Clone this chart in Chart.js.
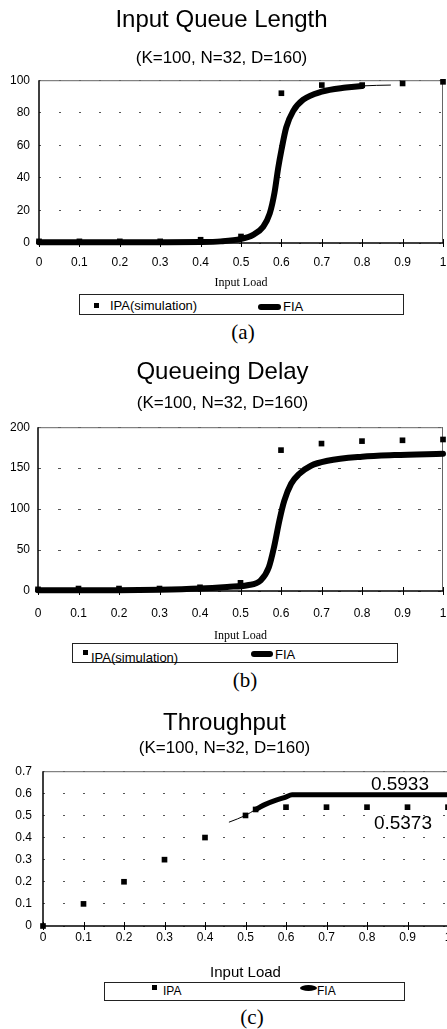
<!DOCTYPE html>
<html>
<head>
<meta charset="utf-8">
<script src="https://cdn.jsdelivr.net/npm/chart.js@4.4.1/dist/chart.umd.min.js"></script>
<style>
  body { margin:0; width:447px; height:1029px; overflow:hidden; background:#fff; position:relative; font-family:"Liberation Sans", Arial, sans-serif; color:#000; }
  canvas { position:absolute; left:0; }
  .legend { position:absolute; border:1px solid #222; box-sizing:border-box; }
  .legend span { position:absolute; white-space:nowrap; line-height:14px; }
  .sq { width:5px; height:5px; background:#000; }
  .bar { background:#000; border-radius:3px; }
  .cap { position:absolute; width:100px; text-align:center; font-family:"Liberation Serif", "Times New Roman", serif; font-size:21px; line-height:24px; }
</style>
</head>
<body>
<canvas id="queueChart" width="447" height="293" style="top:0px"></canvas>
<div class="legend" style="left:79px;top:294px;width:325px;height:21px;font-size:13px">
  <span class="sq" style="left:14px;top:8px"></span>
  <span style="left:30px;top:4px">IPA(simulation)</span>
  <span class="bar" style="left:178px;top:9px;width:23px;height:6px"></span>
  <span style="left:203px;top:5px">FIA</span>
</div>
<div class="cap" style="left:193px;top:320px">(a)</div>

<canvas id="delayChart" width="447" height="303" style="top:340px"></canvas>
<div class="legend" style="left:72px;top:643px;width:326px;height:20px;font-size:13px">
  <span class="sq" style="left:10px;top:6px"></span>
  <span style="left:18px;top:7px">IPA(simulation)</span>
  <span class="bar" style="left:178px;top:7px;width:22px;height:6px"></span>
  <span style="left:202px;top:4px">FIA</span>
</div>
<div class="cap" style="left:195px;top:668px">(b)</div>

<canvas id="tputChart" width="452" height="282" style="top:700px"></canvas>
<div class="legend" style="left:104px;top:982px;width:301px;height:19px;font-size:12px">
  <span class="sq" style="left:47px;top:2px"></span>
  <span style="left:58px;top:1px">IPA</span>
  <span class="bar" style="left:195px;top:2px;width:17px;height:6px;border-radius:50%"></span>
  <span style="left:212px;top:1px">FIA</span>
</div>
<div class="cap" style="left:202px;top:1005px">(c)</div>

<script>
// (a) Input Queue Length
var ipaLoad = [0, 0.1, 0.2, 0.3, 0.4, 0.5, 0.6, 0.7, 0.8, 0.9, 1];
var ipaQueue = [1, 1, 1, 1, 2, 4, 92, 97, 97, 98, 99];
var fiaQueueLoad = [0, 0.1, 0.2, 0.3, 0.4, 0.45, 0.5, 0.53, 0.555, 0.571, 0.583, 0.592, 0.6, 0.612, 0.629, 0.654, 0.7, 0.76, 0.8, 0.87];
var fiaQueue = [0.5, 0.5, 0.5, 0.5, 0.6, 1, 2.5, 5, 10, 18, 31, 46, 57, 71, 81, 88, 93, 95.5, 96.5, 97];

// (b) Queueing Delay
var ipaDelay = [2, 3, 3, 3, 4.5, 10, 172, 180, 183, 184, 185];
var fiaDelayLoad = [0, 0.1, 0.2, 0.3, 0.4, 0.467, 0.517, 0.55, 0.57, 0.583, 0.596, 0.608, 0.625, 0.645, 0.674, 0.715, 0.8, 0.88, 1];
var fiaDelay = [1, 1, 1, 1.5, 3, 5, 7, 13, 29, 54, 86, 110, 131, 143, 153, 159, 164, 166, 167.5];

// (c) Throughput
var ipaTputLoad = [0, 0.1, 0.2, 0.3, 0.4, 0.5, 0.525, 0.6, 0.7, 0.8, 0.9, 1];
var ipaTput = [0, 0.1, 0.2, 0.3, 0.4, 0.5, 0.527, 0.5373, 0.5373, 0.5373, 0.5373, 0.5373];
var fiaTputLoad = [0.46, 0.5, 0.525, 0.533, 0.549, 0.574, 0.598, 0.615, 0.7, 0.8, 0.9, 1];
var fiaTput = [0.47, 0.5, 0.527, 0.535, 0.55, 0.568, 0.582, 0.5933, 0.5933, 0.5933, 0.5933, 0.5933];

var SANS = '"Liberation Sans", Arial, sans-serif';
var SERIF = '"Liberation Serif", "Times New Roman", serif';

function toPoints(xs, ys) {
  return xs.map(function (x, i) { return { x: x, y: ys[i] }; });
}

// tick text like the original: 0, 0.1 ... 0.9, 1
function shortNum(v) {
  return String(parseFloat(v.toFixed(2)));
}

// box round the plot, axis lines and the little ticks crossing the x axis
var framePlugin = {
  id: 'frame',
  beforeDatasetsDraw: function (chart) {
    var ctx = chart.ctx, a = chart.chartArea, x = chart.scales.x;
    ctx.save();
    ctx.strokeStyle = '#666';
    ctx.lineWidth = 1;
    ctx.beginPath();
    ctx.moveTo(a.left, a.top + 0.5); ctx.lineTo(a.right, a.top + 0.5);
    ctx.moveTo(a.right - 0.5, a.top); ctx.lineTo(a.right - 0.5, a.bottom);
    ctx.stroke();
    ctx.strokeStyle = '#000';
    ctx.lineWidth = 1.5;
    ctx.beginPath();
    ctx.moveTo(a.left, a.top); ctx.lineTo(a.left, a.bottom); ctx.lineTo(a.right, a.bottom);
    ctx.stroke();
    ctx.lineWidth = 1;
    ctx.beginPath();
    x.ticks.forEach(function (t) {
      var px = Math.round(x.getPixelForValue(t.value)) + 0.5;
      ctx.moveTo(px, a.bottom - 4); ctx.lineTo(px, a.bottom + 4);
    });
    ctx.stroke();
    ctx.restore();
  }
};

// the two end values written next to the throughput curves
var valueLabels = {
  id: 'valueLabels',
  afterDatasetsDraw: function (chart) {
    var ctx = chart.ctx, x = chart.scales.x, y = chart.scales.y;
    var fiaEnd = fiaTput[fiaTput.length - 1];
    var ipaEnd = ipaTput[ipaTput.length - 1];
    ctx.save();
    ctx.font = '19px ' + SANS;
    ctx.fillStyle = '#000';
    ctx.textAlign = 'right';
    ctx.textBaseline = 'alphabetic';
    ctx.fillText(fiaEnd.toFixed(4), x.getPixelForValue(1) - 19, y.getPixelForValue(fiaEnd) - 5);
    ctx.fillText(ipaEnd.toFixed(4), x.getPixelForValue(1) - 16, y.getPixelForValue(ipaEnd) + 22);
    ctx.restore();
  }
};

function makeChart(id, o) {
  return new Chart(document.getElementById(id), {
    type: 'scatter',
    data: {
      datasets: [{
        label: o.ipaLabel,
        data: o.ipa,
        pointStyle: 'rect',
        pointRadius: 4,
        backgroundColor: '#000',
        borderColor: '#000',
        borderWidth: 0,
        clip: false
      }, {
        label: 'FIA',
        data: o.fia,
        showLine: true,
        pointRadius: 0,
        borderColor: '#000',
        borderWidth: o.lineWidth,
        borderCapStyle: 'round',
        cubicInterpolationMode: 'monotone',
        segment: { borderWidth: o.segWidth },
        clip: false
      }]
    },
    options: {
      responsive: false,
      animation: false,
      layout: { padding: { left: 0, right: o.padRight, top: 0, bottom: 0 } },
      plugins: {
        legend: { display: false },
        tooltip: { enabled: false },
        title: {
          display: true,
          text: o.title,
          color: '#000',
          font: { family: SANS, size: 24, weight: 'normal', lineHeight: 1.2 },
          padding: { top: o.titlePad[0], bottom: o.titlePad[1] }
        },
        subtitle: {
          display: true,
          text: '(K=100, N=32, D=160)',
          color: '#000',
          font: { family: SANS, size: 17, weight: 'normal', lineHeight: 1.2 },
          padding: { top: o.subPad[0], bottom: o.subPad[1] }
        }
      },
      scales: {
        x: {
          type: 'linear',
          min: 0,
          max: 1,
          ticks: { stepSize: 0.1, padding: o.xTickPad, color: '#000', font: { family: SANS, size: 12 }, maxRotation: 0, callback: shortNum },
          grid: { display: false, drawTicks: false },
          border: { display: false },
          title: { display: true, text: 'Input Load', color: '#000', font: o.xTitleFont, padding: { top: 0, bottom: o.xTitleBottom } },
          afterFit: function (s) {
            s.height = o.xHeight;
            s.paddingLeft = 0;
            s.paddingRight = 0;
          }
        },
        y: {
          min: 0,
          max: o.yMax,
          ticks: { stepSize: o.yStep, padding: o.yTickPad, color: '#000', font: { family: SANS, size: 12 }, callback: shortNum },
          grid: { color: '#555', lineWidth: 1, drawTicks: false },
          border: { display: false, dash: o.dash },
          afterFit: function (s) { s.width = o.yWidth; }
        }
      }
    },
    plugins: o.plugins
  });
}

makeChart('queueChart', {
  title: 'Input Queue Length',
  ipaLabel: 'IPA(simulation)',
  ipa: toPoints(ipaLoad, ipaQueue),
  fia: toPoints(fiaQueueLoad, fiaQueue),
  lineWidth: 6,
  segWidth: function (c) { return c.p0.parsed.x >= 0.8 ? 1 : 6; },
  padRight: 4,
  titlePad: [6, 0],
  subPad: [13, 12],
  xTickPad: 12,
  xTitleFont: { family: SERIF, size: 12 },
  xTitleBottom: 3,
  xHeight: 50,
  yMax: 100,
  yStep: 20,
  yTickPad: 9,
  yWidth: 39,
  dash: [2, 18],
  plugins: [framePlugin]
});

makeChart('delayChart', {
  title: 'Queueing Delay',
  ipaLabel: 'IPA(simulation)',
  ipa: toPoints(ipaLoad, ipaDelay),
  fia: toPoints(fiaDelayLoad, fiaDelay),
  lineWidth: 6,
  segWidth: function () { return 6; },
  padRight: 2,
  titlePad: [18, 0],
  subPad: [6, 14],
  xTickPad: 15,
  xTitleFont: { family: SERIF, size: 12 },
  xTitleBottom: 0,
  xHeight: 52,
  yMax: 200,
  yStep: 50,
  yTickPad: 8,
  yWidth: 38,
  dash: [3, 17],
  plugins: [framePlugin]
});

makeChart('tputChart', {
  title: 'Throughput',
  ipaLabel: 'IPA',
  ipa: toPoints(ipaTputLoad, ipaTput),
  fia: toPoints(fiaTputLoad, fiaTput),
  lineWidth: 5,
  segWidth: function (c) { return c.p1.parsed.x <= 0.525 ? 1 : 5; },
  padRight: 3,
  titlePad: [9, 0],
  subPad: [0, 13],
  xTickPad: 4,
  xTitleFont: { family: SANS, size: 15 },
  xTitleBottom: 0,
  xHeight: 56,
  yMax: 0.7,
  yStep: 0.1,
  yTickPad: 11,
  yWidth: 43,
  dash: [2, 18],
  plugins: [framePlugin, valueLabels]
});
</script>
</body>
</html>
